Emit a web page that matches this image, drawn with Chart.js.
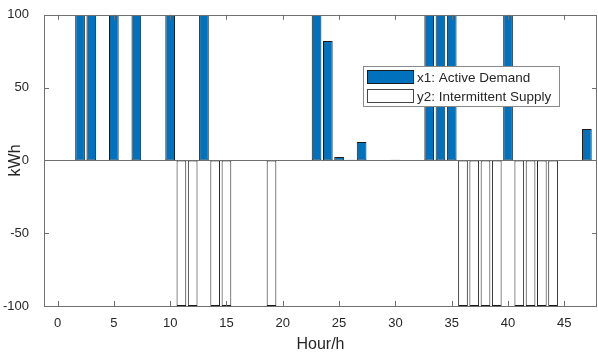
<!DOCTYPE html>
<html>
<head>
<meta charset="utf-8">
<script src="https://cdn.jsdelivr.net/npm/chart.js@4/dist/chart.umd.min.js"></script>
<style>
  html, body { margin: 0; padding: 0; background: #fff; }
  #wrap { width: 598px; height: 356px; }
</style>
</head>
<body>
<div id="wrap"><canvas id="energy_chart"></canvas></div>
<script>
// hours of the day-ahead horizon
const hours = [0, 1, 2, 3, 4, 5, 6, 7, 8, 9, 10, 11, 12, 13, 14, 15, 16, 17, 18, 19, 20, 21, 22, 23,
               24, 25, 26, 27, 28, 29, 30, 31, 32, 33, 34, 35, 36, 37, 38, 39, 40, 41, 42, 43, 44, 45, 46, 47];

// x1: Active Demand (kWh), null where there is no bar
const active_demand = [null, null, 100, 100, null, 100, null, 100, null, null, 100, null,
                       null, 100, null, null, null, null, null, null, null, null, null, 100,
                       82, 2.3, 0.5, 12.7, null, null, 0.5, null, null, 100, 100, 100,
                       null, null, null, null, 100, null, null, null, null, null, null, 21.6];

// y2: Intermittent Supply (kWh)
const intermittent_supply = [null, null, null, null, null, null, null, null, null, null, null, -100,
                             -100, null, -100, -100, null, null, null, -100, null, null, null, null,
                             null, null, null, null, null, null, null, null, null, null, null, null,
                             -100, -100, -100, -100, null, -100, -100, -100, -100, null, null, null];

const x_ticks = [0, 5, 10, 15, 20, 25, 30, 35, 40, 45];
const y_ticks = [-100, -50, 0, 50, 100];
const legend_labels = ['x1: Active Demand', 'y2: Intermittent Supply'];

const axis_color = '#707070';
const text_color = '#262626';

// matlab style box, inward ticks, zero baseline and legend
const boxPlugin = {
    id: 'boxPlugin',
    afterDatasetsDraw(chart) {
        const ctx = chart.ctx;
        const a = chart.chartArea;
        const xs = chart.scales.x;
        const ys = chart.scales.y;
        ctx.save();
        ctx.strokeStyle = axis_color;
        ctx.lineWidth = 1;
        // baseline at zero
        const y0 = Math.round(ys.getPixelForValue(0)) + 0.5;
        ctx.beginPath();
        ctx.moveTo(a.left, y0);
        ctx.lineTo(a.right, y0);
        ctx.stroke();
        // frame
        ctx.strokeRect(Math.round(a.left) + 0.5, Math.round(a.top) + 0.5,
                       Math.round(a.right - a.left) - 1, Math.round(a.bottom - a.top));
        // ticks
        const tl = 5;
        ctx.beginPath();
        x_ticks.forEach(v => {
            const px = Math.round(xs.getPixelForValue(v)) + 0.5;
            ctx.moveTo(px, a.bottom); ctx.lineTo(px, a.bottom - tl);
            ctx.moveTo(px, a.top); ctx.lineTo(px, a.top + tl);
        });
        y_ticks.forEach(v => {
            const py = Math.round(ys.getPixelForValue(v)) + 0.5;
            ctx.moveTo(a.left, py); ctx.lineTo(a.left + tl, py);
            ctx.moveTo(a.right, py); ctx.lineTo(a.right - tl, py);
        });
        ctx.stroke();

        // legend box
        const lx = 363.5, ly = 66.5, lw = 196, lh = 40;
        ctx.fillStyle = '#fff';
        ctx.fillRect(lx, ly, lw, lh);
        ctx.strokeStyle = '#8a8a8a';
        ctx.strokeRect(lx, ly, lw, lh);
        // swatches
        ctx.fillStyle = '#0072BD';
        ctx.fillRect(367.5, 70.5, 46, 13);
        ctx.strokeStyle = '#1a1a1a';
        ctx.strokeRect(367.5, 70.5, 46, 13);
        ctx.fillStyle = '#fff';
        ctx.fillRect(367.5, 89.5, 46, 13);
        ctx.strokeStyle = '#444';
        ctx.strokeRect(367.5, 89.5, 46, 13);
        ctx.fillStyle = text_color;
        ctx.font = '13.5px "Liberation Sans", Arial, sans-serif';
        ctx.textBaseline = 'middle';
        ctx.textAlign = 'left';
        ctx.fillText(legend_labels[0], 417, 78);
        ctx.fillText(legend_labels[1], 417, 97);
        ctx.restore();
    }
};

Chart.defaults.font.family = '"Liberation Sans", Arial, sans-serif';
Chart.defaults.color = text_color;

const ctx = document.getElementById('energy_chart').getContext('2d');
const energy_chart = new Chart(ctx, {
    type: 'bar',
    data: {
        labels: hours,
        datasets: [
            {
                label: legend_labels[0],
                data: active_demand,
                backgroundColor: '#0072BD',
                borderColor: '#1a1a1a',
                borderWidth: 1,
                borderSkipped: false,
                grouped: false,
                barPercentage: 0.86,
                categoryPercentage: 1
            },
            {
                label: legend_labels[1],
                data: intermittent_supply,
                backgroundColor: '#ffffff',
                borderColor: '#1a1a1a',
                borderWidth: 1,
                borderSkipped: false,
                grouped: false,
                barPercentage: 0.86,
                categoryPercentage: 1
            }
        ]
    },
    options: {
        responsive: true,
        maintainAspectRatio: false,
        animation: false,
        layout: {
            padding: { top: 13, right: 1, left: 0, bottom: 0 }
        },
        plugins: {
            legend: { display: false },
            tooltip: { enabled: false }
        },
        scales: {
            x: {
                type: 'linear',
                offset: false,
                min: -1.2,
                max: 47.9,
                grid: { display: false, offset: false },
                border: { display: false },
                afterBuildTicks: (scale) => {
                    scale.ticks = x_ticks.map(v => ({ value: v }));
                },
                afterFit: (scale) => { scale.height = 50; },
                ticks: {
                    font: { size: 13 },
                    color: text_color,
                    padding: 2,
                    maxRotation: 0,
                    autoSkip: false
                },
                title: {
                    display: true,
                    text: 'Hour/h',
                    font: { size: 16 },
                    color: text_color,
                    padding: { top: 0, bottom: 2 }
                }
            },
            y: {
                min: -100,
                max: 100,
                grid: { display: false },
                border: { display: false },
                afterBuildTicks: (scale) => {
                    scale.ticks = y_ticks.map(v => ({ value: v }));
                },
                afterFit: (scale) => { scale.width = 44; },
                ticks: {
                    font: { size: 13 },
                    color: text_color,
                    padding: 7
                },
                title: {
                    display: true,
                    text: 'kWh',
                    font: { size: 16 },
                    color: text_color,
                    padding: { top: 6, bottom: 0 }
                }
            }
        }
    },
    plugins: [boxPlugin]
});
</script>
</body>
</html>
